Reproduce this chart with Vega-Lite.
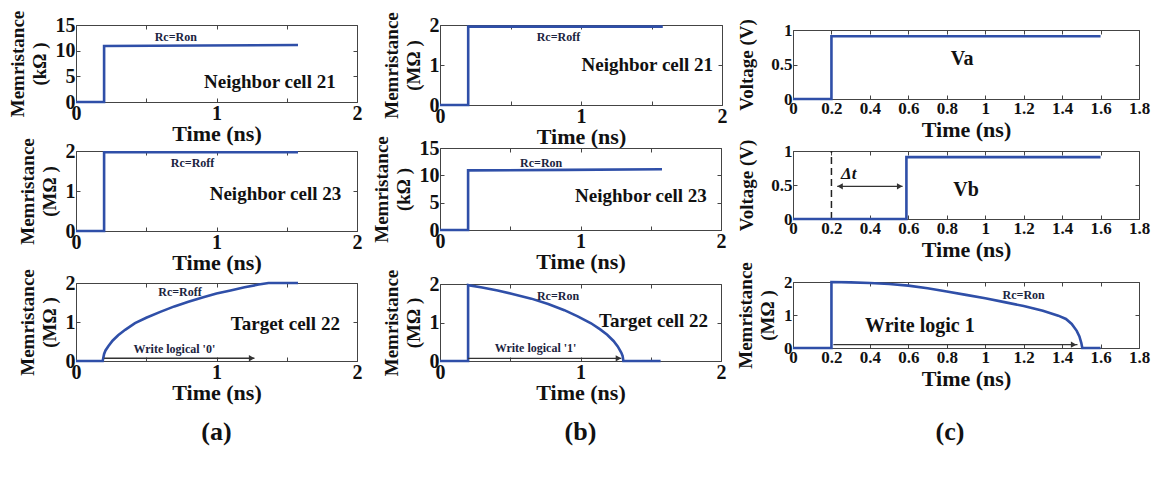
{
"$schema":"https://vega.github.io/schema/vega-lite/v6.json",
"padding":{"left":7,"top":9,"right":5,"bottom":5},
"background":"white",
"config":{
 "view":{"stroke":"#444","strokeWidth":1},
 "axis":{"grid":false,"domain":false,"tickColor":"#444","tickSize":-4,"tickWidth":1,"labelFont":"Liberation Serif","labelFontSize":20,"labelFontWeight":"bold","labelColor":"#111","labelPadding":5,"labelFlush":false,"labelOverlap":false,"titleFont":"Liberation Serif","titleFontWeight":"bold","titleColor":"#111","titleLineHeight":22},
 "axisX":{"titleFontSize":22,"titlePadding":0},
 "axisY":{"titleFontSize":19,"titlePadding":6}
},
"datasets":{
 "lines":[
  {"p":"a1","i":0,"t":0,"v":0},{"p":"a1","i":1,"t":0.2,"v":0},{"p":"a1","i":2,"t":0.2,"v":10.9},{"p":"a1","i":3,"t":0.9,"v":11.0},{"p":"a1","i":4,"t":1.58,"v":11.1},
  {"p":"b1","i":0,"t":0,"v":0},{"p":"b1","i":1,"t":0.2,"v":0},{"p":"b1","i":2,"t":0.2,"v":1.96},{"p":"b1","i":3,"t":1.58,"v":1.96},
  {"p":"c1","i":0,"t":0,"v":0},{"p":"c1","i":1,"t":0.2,"v":0},{"p":"c1","i":2,"t":0.2,"v":0.91},{"p":"c1","i":3,"t":1.6,"v":0.91},
  {"p":"a2","i":0,"t":0,"v":0},{"p":"a2","i":1,"t":0.2,"v":0},{"p":"a2","i":2,"t":0.2,"v":1.97},{"p":"a2","i":3,"t":1.58,"v":1.97},
  {"p":"b2","i":0,"t":0,"v":0},{"p":"b2","i":1,"t":0.2,"v":0},{"p":"b2","i":2,"t":0.2,"v":10.9},{"p":"b2","i":3,"t":0.9,"v":11.0},{"p":"b2","i":4,"t":1.58,"v":11.1},
  {"p":"c2","i":0,"t":0,"v":0},{"p":"c2","i":1,"t":0.59,"v":0},{"p":"c2","i":2,"t":0.59,"v":0.91},{"p":"c2","i":3,"t":1.6,"v":0.91},
  {"p":"a3","i":0,"t":0,"v":0},{"p":"a3","i":1,"t":0.19,"v":0},{"p":"a3","i":2,"t":0.2,"v":0.18},{"p":"a3","i":3,"t":0.21,"v":0.27},{"p":"a3","i":4,"t":0.23,"v":0.38},{"p":"a3","i":5,"t":0.26,"v":0.52},{"p":"a3","i":6,"t":0.3,"v":0.66},{"p":"a3","i":7,"t":0.35,"v":0.8},{"p":"a3","i":8,"t":0.42,"v":0.97},{"p":"a3","i":9,"t":0.5,"v":1.11},{"p":"a3","i":10,"t":0.6,"v":1.26},{"p":"a3","i":11,"t":0.7,"v":1.4},{"p":"a3","i":12,"t":0.8,"v":1.52},{"p":"a3","i":13,"t":0.9,"v":1.63},{"p":"a3","i":14,"t":1.0,"v":1.73},{"p":"a3","i":15,"t":1.1,"v":1.81},{"p":"a3","i":16,"t":1.2,"v":1.89},{"p":"a3","i":17,"t":1.3,"v":1.96},{"p":"a3","i":18,"t":1.37,"v":2.0},{"p":"a3","i":19,"t":1.58,"v":2.0},
  {"p":"b3","i":0,"t":0,"v":0},{"p":"b3","i":1,"t":0.2,"v":0},{"p":"b3","i":2,"t":0.2,"v":1.97},{"p":"b3","i":3,"t":0.3,"v":1.91},{"p":"b3","i":4,"t":0.41,"v":1.83},{"p":"b3","i":5,"t":0.53,"v":1.73},{"p":"b3","i":6,"t":0.65,"v":1.62},{"p":"b3","i":7,"t":0.77,"v":1.48},{"p":"b3","i":8,"t":0.885,"v":1.32},{"p":"b3","i":9,"t":0.98,"v":1.16},{"p":"b3","i":10,"t":1.075,"v":0.98},{"p":"b3","i":11,"t":1.14,"v":0.82},{"p":"b3","i":12,"t":1.19,"v":0.68},{"p":"b3","i":13,"t":1.235,"v":0.52},{"p":"b3","i":14,"t":1.265,"v":0.38},{"p":"b3","i":15,"t":1.29,"v":0.22},{"p":"b3","i":16,"t":1.3,"v":0.13},{"p":"b3","i":17,"t":1.305,"v":0},{"p":"b3","i":18,"t":1.57,"v":0},
  {"p":"c3","i":0,"t":0,"v":0},{"p":"c3","i":1,"t":0.2,"v":0},{"p":"c3","i":2,"t":0.2,"v":2.0},{"p":"c3","i":3,"t":0.3,"v":1.99},{"p":"c3","i":4,"t":0.4,"v":1.97},{"p":"c3","i":5,"t":0.5,"v":1.94},{"p":"c3","i":6,"t":0.6,"v":1.89},{"p":"c3","i":7,"t":0.7,"v":1.81},{"p":"c3","i":8,"t":0.8,"v":1.71},{"p":"c3","i":9,"t":0.9,"v":1.61},{"p":"c3","i":10,"t":1.0,"v":1.51},{"p":"c3","i":11,"t":1.1,"v":1.39},{"p":"c3","i":12,"t":1.2,"v":1.27},{"p":"c3","i":13,"t":1.3,"v":1.13},{"p":"c3","i":14,"t":1.38,"v":0.98},{"p":"c3","i":15,"t":1.42,"v":0.88},{"p":"c3","i":16,"t":1.45,"v":0.73},{"p":"c3","i":17,"t":1.476,"v":0.52},{"p":"c3","i":18,"t":1.49,"v":0.35},{"p":"c3","i":19,"t":1.5,"v":0.15},{"p":"c3","i":20,"t":1.505,"v":0},{"p":"c3","i":21,"t":1.6,"v":0}
 ],
 "notes":[
  {"p":"a1","t":0.71,"v":12.7,"label":"Rc=Ron","kind":"state"},{"p":"a1","t":1.38,"v":3.9,"label":"Neighbor cell 21","kind":"name"},
  {"p":"b1","t":0.84,"v":1.7,"label":"Rc=Roff","kind":"state"},{"p":"b1","t":1.47,"v":1.0,"label":"Neighbor cell 21","kind":"name"},
  {"p":"c1","t":0.88,"v":0.58,"label":"Va","kind":"name"},
  {"p":"a2","t":0.83,"v":1.7,"label":"Rc=Roff","kind":"state"},{"p":"a2","t":1.42,"v":0.92,"label":"Neighbor cell 23","kind":"name"},
  {"p":"b2","t":0.72,"v":12.3,"label":"Rc=Ron","kind":"state"},{"p":"b2","t":1.43,"v":6.2,"label":"Neighbor cell 23","kind":"name"},
  {"p":"c2","t":0.9,"v":0.43,"label":"Vb","kind":"name"},{"p":"c2","t":0.29,"v":0.66,"label":"Δt","kind":"delta"},
  {"p":"a3","t":0.74,"v":1.77,"label":"Rc=Roff","kind":"state"},{"p":"a3","t":1.49,"v":0.95,"label":"Target cell 22","kind":"name"},{"p":"a3","t":0.7,"v":0.3,"label":"Write logical '0'","kind":"state"},
  {"p":"b3","t":0.84,"v":1.7,"label":"Rc=Ron","kind":"state"},{"p":"b3","t":1.52,"v":1.05,"label":"Target cell 22","kind":"name"},{"p":"b3","t":0.68,"v":0.34,"label":"Write logical '1'","kind":"state"},
  {"p":"c3","t":1.2,"v":1.62,"label":"Rc=Ron","kind":"state"},{"p":"c3","t":0.66,"v":0.68,"label":"Write logic 1","kind":"name"}
 ],
 "arrows":[
  {"p":"a3","t":0.2,"t2":1.27,"v":0.07},{"p":"b3","t":0.2,"t2":1.29,"v":0.07},{"p":"c2","t":0.23,"t2":0.57,"v":0.48},{"p":"c3","t":0.21,"t2":1.48,"v":0.1}
 ],
 "heads":[
  {"p":"a3","t":1.25,"v":0.07,"dir":"right"},{"p":"b3","t":1.27,"v":0.07,"dir":"right"},{"p":"c2","t":0.555,"v":0.48,"dir":"right"},{"p":"c2","t":0.245,"v":0.48,"dir":"left"},{"p":"c3","t":1.46,"v":0.1,"dir":"right"}
 ],
 "guides":[{"p":"c2","t":0.2,"v":0,"v2":1}],
 "captions":[{"col":"a","label":"(a)"},{"col":"b","label":"(b)"},{"col":"c","label":"(c)"}],
 "blank":[{"label":""}]
},
"hconcat":[
 {"hconcat":[
  {"vconcat":[
    {"width":281,"height":77,"resolve":{"axis":{"x":"independent","y":"independent"}},
     "encoding":{"x":{"field":"t","type":"quantitative","scale":{"domain":[0,2],"nice":false},"axis":null},"y":{"field":"v","type":"quantitative","scale":{"domain":[0,15],"nice":false},"axis":null}},
     "layer":[
      {"data":{"name":"lines"},"transform":[{"filter":"datum.p=='a1'"}],"mark":{"type":"line","color":"#2f4fa8","strokeWidth":2.6},
       "encoding":{"x":{"field":"t","type":"quantitative","scale":{"domain":[0,2],"nice":false},"axis":{"title":"Time (ns)","values":[0,0.5,1,1.5,2],"labelExpr":"datum.value % 1 == 0 ? '' + datum.value : ''"}},"y":{"field":"v","type":"quantitative","scale":{"domain":[0,15],"nice":false},"axis":{"title":["Memristance","(kΩ )"],"values":[0,5,10,15]}},"order":{"field":"i"}}},
      {"data":{"name":"notes"},"transform":[{"filter":"datum.p=='a1' && datum.kind=='name'"}],"mark":{"type":"text","font":"Liberation Serif","fontSize":19,"fontWeight":"bold","color":"#111"},
       "encoding":{"x":{"field":"t","type":"quantitative","scale":{"domain":[0,2],"nice":false},"axis":{"orient":"top","values":[0,0.5,1,1.5,2],"labels":false,"title":null}},"y":{"field":"v","type":"quantitative","scale":{"domain":[0,15],"nice":false},"axis":{"orient":"right","values":[0,5,10,15],"labels":false,"title":null}},"text":{"field":"label"}}},
      {"data":{"name":"notes"},"transform":[{"filter":"datum.p=='a1' && datum.kind=='state'"}],"mark":{"type":"text","font":"Liberation Serif","fontSize":12,"fontWeight":"bold","color":"#1c2440"},"encoding":{"text":{"field":"label"}}}
     ]},
    {"width":281,"height":49,"view":{"stroke":null},"data":{"name":"blank"},"mark":{"type":"text"},"encoding":{"text":{"field":"label"}}},
    {"width":281,"height":80,"resolve":{"axis":{"x":"independent","y":"independent"}},
     "encoding":{"x":{"field":"t","type":"quantitative","scale":{"domain":[0,2],"nice":false},"axis":null},"y":{"field":"v","type":"quantitative","scale":{"domain":[0,2],"nice":false},"axis":null}},
     "layer":[
      {"data":{"name":"lines"},"transform":[{"filter":"datum.p=='a2'"}],"mark":{"type":"line","color":"#2f4fa8","strokeWidth":2.6},
       "encoding":{"x":{"field":"t","type":"quantitative","scale":{"domain":[0,2],"nice":false},"axis":{"title":"Time (ns)","values":[0,0.5,1,1.5,2],"labelExpr":"datum.value % 1 == 0 ? '' + datum.value : ''"}},"y":{"field":"v","type":"quantitative","scale":{"domain":[0,2],"nice":false},"axis":{"title":["Memristance","(MΩ )"],"values":[0,1,2],"format":"~g"}},"order":{"field":"i"}}},
      {"data":{"name":"notes"},"transform":[{"filter":"datum.p=='a2' && datum.kind=='name'"}],"mark":{"type":"text","font":"Liberation Serif","fontSize":19,"fontWeight":"bold","color":"#111"},
       "encoding":{"x":{"field":"t","type":"quantitative","scale":{"domain":[0,2],"nice":false},"axis":{"orient":"top","values":[0,0.5,1,1.5,2],"labels":false,"title":null}},"y":{"field":"v","type":"quantitative","scale":{"domain":[0,2],"nice":false},"axis":{"orient":"right","values":[0,1,2],"labels":false,"title":null}},"text":{"field":"label"}}},
      {"data":{"name":"notes"},"transform":[{"filter":"datum.p=='a2' && datum.kind=='state'"}],"mark":{"type":"text","font":"Liberation Serif","fontSize":12,"fontWeight":"bold","color":"#1c2440"},"encoding":{"text":{"field":"label"}}}
     ]},
    {"width":281,"height":52,"view":{"stroke":null},"data":{"name":"blank"},"mark":{"type":"text"},"encoding":{"text":{"field":"label"}}},
    {"width":281,"height":78,"resolve":{"axis":{"x":"independent","y":"independent"}},
     "encoding":{"x":{"field":"t","type":"quantitative","scale":{"domain":[0,2],"nice":false},"axis":null},"y":{"field":"v","type":"quantitative","scale":{"domain":[0,2],"nice":false},"axis":null}},
     "layer":[
      {"data":{"name":"lines"},"transform":[{"filter":"datum.p=='a3'"}],"mark":{"type":"line","color":"#2f4fa8","strokeWidth":2.6},
       "encoding":{"x":{"field":"t","type":"quantitative","scale":{"domain":[0,2],"nice":false},"axis":{"title":"Time (ns)","values":[0,0.5,1,1.5,2],"labelExpr":"datum.value % 1 == 0 ? '' + datum.value : ''"}},"y":{"field":"v","type":"quantitative","scale":{"domain":[0,2],"nice":false},"axis":{"title":["Memristance","(MΩ )"],"values":[0,1,2],"format":"~g"}},"order":{"field":"i"}}},
      {"data":{"name":"notes"},"transform":[{"filter":"datum.p=='a3' && datum.kind=='name'"}],"mark":{"type":"text","font":"Liberation Serif","fontSize":19,"fontWeight":"bold","color":"#111"},
       "encoding":{"x":{"field":"t","type":"quantitative","scale":{"domain":[0,2],"nice":false},"axis":{"orient":"top","values":[0,0.5,1,1.5,2],"labels":false,"title":null}},"y":{"field":"v","type":"quantitative","scale":{"domain":[0,2],"nice":false},"axis":{"orient":"right","values":[0,1,2],"labels":false,"title":null}},"text":{"field":"label"}}},
      {"data":{"name":"notes"},"transform":[{"filter":"datum.p=='a3' && datum.kind=='state'"}],"mark":{"type":"text","font":"Liberation Serif","fontSize":12,"fontWeight":"bold","color":"#1c2440"},"encoding":{"text":{"field":"label"}}},
      {"data":{"name":"arrows"},"transform":[{"filter":"datum.p=='a3'"}],"mark":{"type":"rule","color":"#333","strokeWidth":1.3},"encoding":{"x2":{"field":"t2"}}},
      {"data":{"name":"heads"},"transform":[{"filter":"datum.p=='a3'"}],"mark":{"type":"point","filled":true,"color":"#333","size":40,"opacity":1},"encoding":{"shape":{"field":"dir","type":"nominal","scale":{"domain":["right","left"],"range":["triangle-right","triangle-left"]},"legend":null}}}
     ]},
    {"width":281,"height":70,"view":{"stroke":null},"data":{"name":"blank"},"mark":{"type":"text"},"encoding":{"text":{"field":"label"}}},
    {"width":281,"height":1,"view":{"stroke":null},"data":{"name":"captions"},"transform":[{"filter":"datum.col=='a'"}],"mark":{"type":"text","font":"Liberation Serif","fontSize":26,"fontWeight":"bold","color":"#111"},"encoding":{"text":{"field":"label"}}}
  ],"spacing":0,"bounds":"flush"},
  {"vconcat":[
    {"width":282,"height":80,"resolve":{"axis":{"x":"independent","y":"independent"}},
     "encoding":{"x":{"field":"t","type":"quantitative","scale":{"domain":[0,2],"nice":false},"axis":null},"y":{"field":"v","type":"quantitative","scale":{"domain":[0,2],"nice":false},"axis":null}},
     "layer":[
      {"data":{"name":"lines"},"transform":[{"filter":"datum.p=='b1'"}],"mark":{"type":"line","color":"#2f4fa8","strokeWidth":2.6},
       "encoding":{"x":{"field":"t","type":"quantitative","scale":{"domain":[0,2],"nice":false},"axis":{"title":"Time (ns)","values":[0,0.5,1,1.5,2],"labelExpr":"datum.value % 1 == 0 ? '' + datum.value : ''"}},"y":{"field":"v","type":"quantitative","scale":{"domain":[0,2],"nice":false},"axis":{"title":["Memristance","(MΩ )"],"values":[0,1,2],"format":"~g"}},"order":{"field":"i"}}},
      {"data":{"name":"notes"},"transform":[{"filter":"datum.p=='b1' && datum.kind=='name'"}],"mark":{"type":"text","font":"Liberation Serif","fontSize":19,"fontWeight":"bold","color":"#111"},
       "encoding":{"x":{"field":"t","type":"quantitative","scale":{"domain":[0,2],"nice":false},"axis":{"orient":"top","values":[0,0.5,1,1.5,2],"labels":false,"title":null}},"y":{"field":"v","type":"quantitative","scale":{"domain":[0,2],"nice":false},"axis":{"orient":"right","values":[0,1,2],"labels":false,"title":null}},"text":{"field":"label"}}},
      {"data":{"name":"notes"},"transform":[{"filter":"datum.p=='b1' && datum.kind=='state'"}],"mark":{"type":"text","font":"Liberation Serif","fontSize":12,"fontWeight":"bold","color":"#1c2440"},"encoding":{"text":{"field":"label"}}}
     ]},
    {"width":282,"height":43,"view":{"stroke":null},"data":{"name":"blank"},"mark":{"type":"text"},"encoding":{"text":{"field":"label"}}},
    {"width":281,"height":82,"resolve":{"axis":{"x":"independent","y":"independent"}},
     "encoding":{"x":{"field":"t","type":"quantitative","scale":{"domain":[0,2],"nice":false},"axis":null},"y":{"field":"v","type":"quantitative","scale":{"domain":[0,15],"nice":false},"axis":null}},
     "layer":[
      {"data":{"name":"lines"},"transform":[{"filter":"datum.p=='b2'"}],"mark":{"type":"line","color":"#2f4fa8","strokeWidth":2.6},
       "encoding":{"x":{"field":"t","type":"quantitative","scale":{"domain":[0,2],"nice":false},"axis":{"title":"Time (ns)","values":[0,0.5,1,1.5,2],"labelExpr":"datum.value % 1 == 0 ? '' + datum.value : ''"}},"y":{"field":"v","type":"quantitative","scale":{"domain":[0,15],"nice":false},"axis":{"title":["Memristance","(kΩ )"],"values":[0,5,10,15]}},"order":{"field":"i"}}},
      {"data":{"name":"notes"},"transform":[{"filter":"datum.p=='b2' && datum.kind=='name'"}],"mark":{"type":"text","font":"Liberation Serif","fontSize":19,"fontWeight":"bold","color":"#111"},
       "encoding":{"x":{"field":"t","type":"quantitative","scale":{"domain":[0,2],"nice":false},"axis":{"orient":"top","values":[0,0.5,1,1.5,2],"labels":false,"title":null}},"y":{"field":"v","type":"quantitative","scale":{"domain":[0,15],"nice":false},"axis":{"orient":"right","values":[0,5,10,15],"labels":false,"title":null}},"text":{"field":"label"}}},
      {"data":{"name":"notes"},"transform":[{"filter":"datum.p=='b2' && datum.kind=='state'"}],"mark":{"type":"text","font":"Liberation Serif","fontSize":12,"fontWeight":"bold","color":"#1c2440"},"encoding":{"text":{"field":"label"}}}
     ]},
    {"width":281,"height":54,"view":{"stroke":null},"data":{"name":"blank"},"mark":{"type":"text"},"encoding":{"text":{"field":"label"}}},
    {"width":281,"height":77,"resolve":{"axis":{"x":"independent","y":"independent"}},
     "encoding":{"x":{"field":"t","type":"quantitative","scale":{"domain":[0,2],"nice":false},"axis":null},"y":{"field":"v","type":"quantitative","scale":{"domain":[0,2],"nice":false},"axis":null}},
     "layer":[
      {"data":{"name":"lines"},"transform":[{"filter":"datum.p=='b3'"}],"mark":{"type":"line","color":"#2f4fa8","strokeWidth":2.6},
       "encoding":{"x":{"field":"t","type":"quantitative","scale":{"domain":[0,2],"nice":false},"axis":{"title":"Time (ns)","values":[0,0.5,1,1.5,2],"labelExpr":"datum.value % 1 == 0 ? '' + datum.value : ''"}},"y":{"field":"v","type":"quantitative","scale":{"domain":[0,2],"nice":false},"axis":{"title":["Memristance","(MΩ )"],"values":[0,1,2],"format":"~g"}},"order":{"field":"i"}}},
      {"data":{"name":"notes"},"transform":[{"filter":"datum.p=='b3' && datum.kind=='name'"}],"mark":{"type":"text","font":"Liberation Serif","fontSize":19,"fontWeight":"bold","color":"#111"},
       "encoding":{"x":{"field":"t","type":"quantitative","scale":{"domain":[0,2],"nice":false},"axis":{"orient":"top","values":[0,0.5,1,1.5,2],"labels":false,"title":null}},"y":{"field":"v","type":"quantitative","scale":{"domain":[0,2],"nice":false},"axis":{"orient":"right","values":[0,1,2],"labels":false,"title":null}},"text":{"field":"label"}}},
      {"data":{"name":"notes"},"transform":[{"filter":"datum.p=='b3' && datum.kind=='state'"}],"mark":{"type":"text","font":"Liberation Serif","fontSize":12,"fontWeight":"bold","color":"#1c2440"},"encoding":{"text":{"field":"label"}}},
      {"data":{"name":"arrows"},"transform":[{"filter":"datum.p=='b3'"}],"mark":{"type":"rule","color":"#333","strokeWidth":1.3},"encoding":{"x2":{"field":"t2"}}},
      {"data":{"name":"heads"},"transform":[{"filter":"datum.p=='b3'"}],"mark":{"type":"point","filled":true,"color":"#333","size":40,"opacity":1},"encoding":{"shape":{"field":"dir","type":"nominal","scale":{"domain":["right","left"],"range":["triangle-right","triangle-left"]},"legend":null}}}
     ]},
    {"width":281,"height":70,"view":{"stroke":null},"data":{"name":"blank"},"mark":{"type":"text"},"encoding":{"text":{"field":"label"}}},
    {"width":281,"height":1,"view":{"stroke":null},"data":{"name":"captions"},"transform":[{"filter":"datum.col=='b'"}],"mark":{"type":"text","font":"Liberation Serif","fontSize":26,"fontWeight":"bold","color":"#111"},"encoding":{"text":{"field":"label"}}}
  ],"spacing":0,"bounds":"flush"}
 ],"spacing":8},
 {"vconcat":[
    {"width":346,"height":5,"view":{"stroke":null},"data":{"name":"blank"},"mark":{"type":"text"},"encoding":{"text":{"field":"label"}}},
    {"width":346,"height":69,"resolve":{"axis":{"x":"independent","y":"independent"}},
     "encoding":{"x":{"field":"t","type":"quantitative","scale":{"domain":[0,1.8],"nice":false},"axis":null},"y":{"field":"v","type":"quantitative","scale":{"domain":[0,1],"nice":false},"axis":null}},
     "layer":[
      {"data":{"name":"lines"},"transform":[{"filter":"datum.p=='c1'"}],"mark":{"type":"line","color":"#2f4fa8","strokeWidth":2.6},
       "encoding":{"x":{"field":"t","type":"quantitative","scale":{"domain":[0,1.8],"nice":false},"axis":{"title":"Time (ns)","values":[0,0.2,0.4,0.6,0.8,1,1.2,1.4,1.6,1.8],"format":"~g","labelFontSize":17,"titlePadding":3}},"y":{"field":"v","type":"quantitative","scale":{"domain":[0,1],"nice":false},"axis":{"title":"Voltage (V)","values":[0,0.5,1],"format":"~g","labelFontSize":17,"titlePadding":14}},"order":{"field":"i"}}},
      {"data":{"name":"notes"},"transform":[{"filter":"datum.p=='c1' && datum.kind=='name'"}],"mark":{"type":"text","font":"Liberation Serif","fontSize":20,"fontWeight":"bold","color":"#111"},
       "encoding":{"x":{"field":"t","type":"quantitative","scale":{"domain":[0,1.8],"nice":false},"axis":{"orient":"top","values":[0,0.2,0.4,0.6,0.8,1,1.2,1.4,1.6,1.8],"labels":false,"title":null}},"y":{"field":"v","type":"quantitative","scale":{"domain":[0,1],"nice":false},"axis":{"orient":"right","values":[0,0.5,1],"labels":false,"title":null}},"text":{"field":"label"}}}
     ]},
    {"width":346,"height":52,"view":{"stroke":null},"data":{"name":"blank"},"mark":{"type":"text"},"encoding":{"text":{"field":"label"}}},
    {"width":346,"height":68,"resolve":{"axis":{"x":"independent","y":"independent"}},
     "encoding":{"x":{"field":"t","type":"quantitative","scale":{"domain":[0,1.8],"nice":false},"axis":null},"y":{"field":"v","type":"quantitative","scale":{"domain":[0,1],"nice":false},"axis":null}},
     "layer":[
      {"data":{"name":"guides"},"transform":[{"filter":"datum.p=='c2'"}],"mark":{"type":"rule","color":"#222","strokeWidth":1.5,"strokeDash":[7,4]},"encoding":{"y2":{"field":"v2"}}},
      {"data":{"name":"lines"},"transform":[{"filter":"datum.p=='c2'"}],"mark":{"type":"line","color":"#2f4fa8","strokeWidth":2.6},
       "encoding":{"x":{"field":"t","type":"quantitative","scale":{"domain":[0,1.8],"nice":false},"axis":{"title":"Time (ns)","values":[0,0.2,0.4,0.6,0.8,1,1.2,1.4,1.6,1.8],"format":"~g","labelFontSize":17,"titlePadding":3}},"y":{"field":"v","type":"quantitative","scale":{"domain":[0,1],"nice":false},"axis":{"title":"Voltage (V)","values":[0,0.5,1],"format":"~g","labelFontSize":17,"titlePadding":14}},"order":{"field":"i"}}},
      {"data":{"name":"notes"},"transform":[{"filter":"datum.p=='c2' && datum.kind=='name'"}],"mark":{"type":"text","font":"Liberation Serif","fontSize":20,"fontWeight":"bold","color":"#111"},
       "encoding":{"x":{"field":"t","type":"quantitative","scale":{"domain":[0,1.8],"nice":false},"axis":{"orient":"top","values":[0,0.2,0.4,0.6,0.8,1,1.2,1.4,1.6,1.8],"labels":false,"title":null}},"y":{"field":"v","type":"quantitative","scale":{"domain":[0,1],"nice":false},"axis":{"orient":"right","values":[0,0.5,1],"labels":false,"title":null}},"text":{"field":"label"}}},
      {"data":{"name":"notes"},"transform":[{"filter":"datum.p=='c2' && datum.kind=='delta'"}],"mark":{"type":"text","font":"Liberation Serif","fontSize":17,"fontWeight":"bold","fontStyle":"italic","color":"#111"},"encoding":{"text":{"field":"label"}}},
      {"data":{"name":"arrows"},"transform":[{"filter":"datum.p=='c2'"}],"mark":{"type":"rule","color":"#333","strokeWidth":1.3},"encoding":{"x2":{"field":"t2"}}},
      {"data":{"name":"heads"},"transform":[{"filter":"datum.p=='c2'"}],"mark":{"type":"point","filled":true,"color":"#333","size":40,"opacity":1},"encoding":{"shape":{"field":"dir","type":"nominal","scale":{"domain":["right","left"],"range":["triangle-right","triangle-left"]},"legend":null}}}
     ]},
    {"width":346,"height":63,"view":{"stroke":null},"data":{"name":"blank"},"mark":{"type":"text"},"encoding":{"text":{"field":"label"}}},
    {"width":346,"height":66,"resolve":{"axis":{"x":"independent","y":"independent"}},
     "encoding":{"x":{"field":"t","type":"quantitative","scale":{"domain":[0,1.8],"nice":false},"axis":null},"y":{"field":"v","type":"quantitative","scale":{"domain":[0,2],"nice":false},"axis":null}},
     "layer":[
      {"data":{"name":"lines"},"transform":[{"filter":"datum.p=='c3'"}],"mark":{"type":"line","color":"#2f4fa8","strokeWidth":2.6},
       "encoding":{"x":{"field":"t","type":"quantitative","scale":{"domain":[0,1.8],"nice":false},"axis":{"title":"Time (ns)","values":[0,0.2,0.4,0.6,0.8,1,1.2,1.4,1.6,1.8],"format":"~g","labelFontSize":17,"titlePadding":3}},"y":{"field":"v","type":"quantitative","scale":{"domain":[0,2],"nice":false},"axis":{"title":["Memristance","(MΩ )"],"values":[0,1,2],"format":"~g","labelFontSize":17}},"order":{"field":"i"}}},
      {"data":{"name":"notes"},"transform":[{"filter":"datum.p=='c3' && datum.kind=='name'"}],"mark":{"type":"text","font":"Liberation Serif","fontSize":20,"fontWeight":"bold","color":"#111"},
       "encoding":{"x":{"field":"t","type":"quantitative","scale":{"domain":[0,1.8],"nice":false},"axis":{"orient":"top","values":[0,0.2,0.4,0.6,0.8,1,1.2,1.4,1.6,1.8],"labels":false,"title":null}},"y":{"field":"v","type":"quantitative","scale":{"domain":[0,2],"nice":false},"axis":{"orient":"right","values":[0,1,2],"labels":false,"title":null}},"text":{"field":"label"}}},
      {"data":{"name":"notes"},"transform":[{"filter":"datum.p=='c3' && datum.kind=='state'"}],"mark":{"type":"text","font":"Liberation Serif","fontSize":12,"fontWeight":"bold","color":"#1c2440"},"encoding":{"text":{"field":"label"}}},
      {"data":{"name":"arrows"},"transform":[{"filter":"datum.p=='c3'"}],"mark":{"type":"rule","color":"#333","strokeWidth":1.3},"encoding":{"x2":{"field":"t2"}}},
      {"data":{"name":"heads"},"transform":[{"filter":"datum.p=='c3'"}],"mark":{"type":"point","filled":true,"color":"#333","size":40,"opacity":1},"encoding":{"shape":{"field":"dir","type":"nominal","scale":{"domain":["right","left"],"range":["triangle-right","triangle-left"]},"legend":null}}}
     ]},
    {"width":346,"height":83,"view":{"stroke":null},"data":{"name":"blank"},"mark":{"type":"text"},"encoding":{"text":{"field":"label"}}},
    {"width":314,"height":1,"view":{"stroke":null},"data":{"name":"captions"},"transform":[{"filter":"datum.col=='c'"}],"mark":{"type":"text","font":"Liberation Serif","fontSize":26,"fontWeight":"bold","color":"#111"},"encoding":{"text":{"field":"label"}}}
 ],"spacing":0,"bounds":"flush"}
],"spacing":8
}
